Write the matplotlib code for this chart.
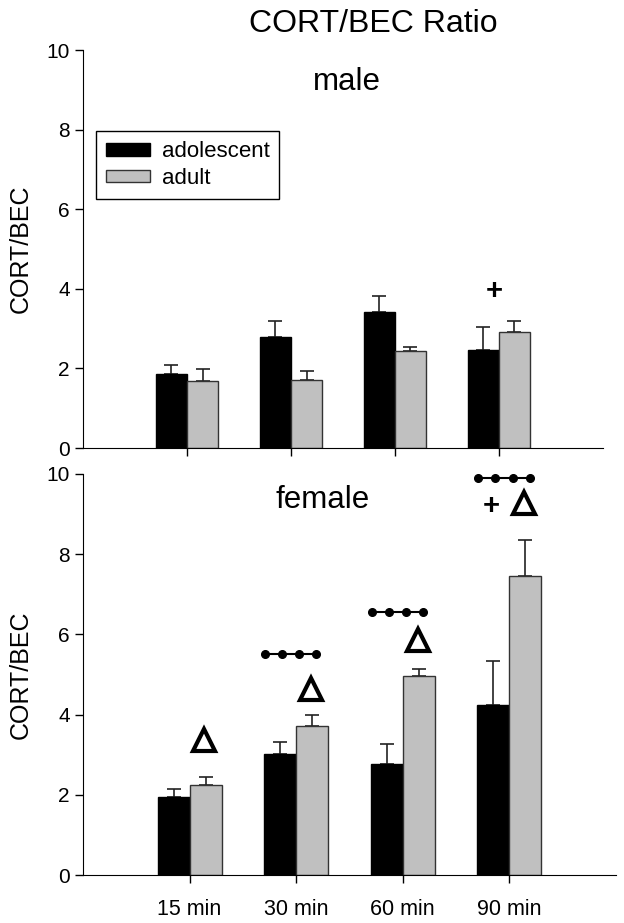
import matplotlib.pyplot as plt
import numpy as np

plt.rcParams['font.family'] = ['Liberation Sans', 'DejaVu Sans']

times = ['15 min', '30 min', '60 min', '90 min']
groups = ['adolescent', 'adult']

male_adol = [1.86, 2.79, 3.41, 2.46]
male_adol_err = [0.22, 0.40, 0.41, 0.58]
male_adult = [1.69, 1.72, 2.44, 2.91]
male_adult_err = [0.29, 0.22, 0.09, 0.28]

female_adol = [1.95, 3.02, 2.78, 4.25]
female_adol_err = [0.19, 0.29, 0.48, 1.09]
female_adult = [2.25, 3.72, 4.95, 7.46]
female_adult_err = [0.19, 0.28, 0.18, 0.89]

# significance marks (group index, y)
female_triangles = [(0, 3.37), (1, 4.65), (2, 5.86), (3, 9.28)]
female_dots = [(1, 5.52), (2, 6.57), (3, 9.9)]
female_plus = [(3, 9.2)]
male_plus = [(3, 3.94)]

fig = plt.figure(figsize=(6.24, 9.23), dpi=100)
ax1 = fig.add_axes([0.133, 0.5146, 0.833, 0.4312])
ax2 = fig.add_axes([0.133, 0.052, 0.854, 0.4345])

x = np.arange(1, len(times) + 1)
w = 0.3
gray = '#c0c0c0'


def draw(ax, adol, adol_err, adult, adult_err):
    ax.bar(x - w / 2, adol, w, color='black', edgecolor='black', lw=1,
           label=groups[0], zorder=2)
    ax.bar(x + w / 2, adult, w, color=gray, edgecolor='#333333', lw=1,
           label=groups[1], zorder=2)
    ax.errorbar(x - w / 2, adol, yerr=[np.zeros(4), adol_err], fmt='none',
                ecolor='#222222', elinewidth=1.2, capsize=5, capthick=1.2, zorder=1)
    ax.errorbar(x + w / 2, adult, yerr=[np.zeros(4), adult_err], fmt='none',
                ecolor='#222222', elinewidth=1.2, capsize=5, capthick=1.2, zorder=1)
    ax.set_xlim(0, 5)
    ax.set_ylim(0, 10)
    ax.set_yticks(range(0, 11, 2))
    ax.set_xticks(x)
    ax.spines['top'].set_visible(False)
    ax.spines['right'].set_visible(False)
    ax.tick_params(direction='out', length=6, width=1, labelsize=15)
    ax.set_ylabel('CORT/BEC', fontsize=18, labelpad=10)


draw(ax1, male_adol, male_adol_err, male_adult, male_adult_err)
draw(ax2, female_adol, female_adol_err, female_adult, female_adult_err)

ax1.set_xticklabels([])
ax2.set_xticklabels(times, fontsize=15.5)
ax2.tick_params(axis='x', pad=11)

ax1.text(2.54, 9.2, 'male', ha='center', va='center', fontsize=22.5)
ax2.text(2.25, 9.35, 'female', ha='center', va='center', fontsize=22.5)
fig.text(0.599, 0.974, 'CORT/BEC Ratio', ha='center', va='center', fontsize=23)

leg = ax1.legend(loc='upper left', bbox_to_anchor=(0.025, 0.796), fontsize=16,
                 fancybox=False, edgecolor='black', framealpha=1,
                 handlelength=2.0, handleheight=0.5, handletextpad=0.5,
                 borderpad=0.45, labelspacing=0.25, borderaxespad=0)
leg.get_frame().set_linewidth(1)

for g, y in male_plus:
    ax1.text(x[g] - 0.04, y, '+', ha='center', va='center', fontsize=21,
             fontweight='bold')
for g, y in female_plus:
    ax2.text(x[g] - 0.17, y, '+', ha='center', va='center', fontsize=21,
             fontweight='bold')
for g, y in female_triangles:
    ax2.plot(x[g] + 0.14, y, marker='^', ms=16, mfc='white', mec='black',
             mew=3, clip_on=False)
for g, y in female_dots:
    xs = x[g] + np.linspace(-0.29, 0.19, 4)
    ax2.plot(xs, [y] * 4, '-o', color='black', ms=5.5, lw=1.5, clip_on=False)

fig.savefig('out.png', dpi=100)
